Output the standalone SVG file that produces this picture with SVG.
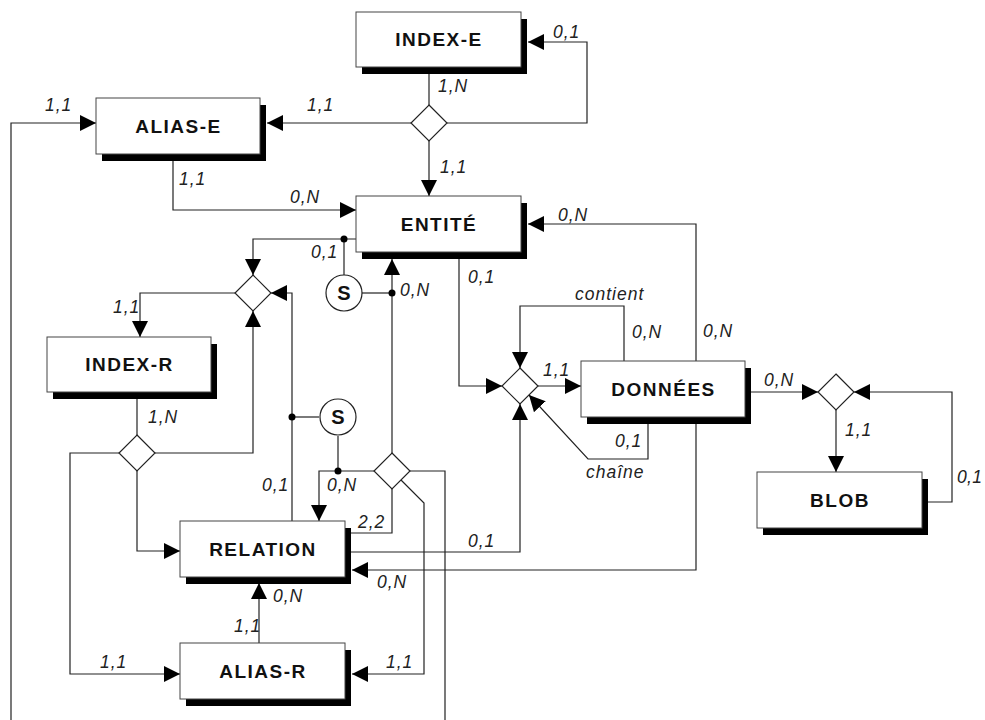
<svg xmlns="http://www.w3.org/2000/svg" width="985" height="720" viewBox="0 0 985 720">
<style>
.ln{fill:none;stroke:#222;stroke-width:1.2}
.ar{marker-end:url(#arr)}
.box{fill:#fff;stroke:#444;stroke-width:1}
.sh{fill:#000}
.dia{fill:#fff;stroke:#222;stroke-width:1.2}
.circ{fill:#fff;stroke:#222;stroke-width:1.2}
.dot{fill:#000}
.lbl{font-family:"Liberation Sans",Arial,sans-serif;font-size:17.5px;font-style:italic;letter-spacing:1px;fill:#222}
.name{font-family:"Liberation Sans",Arial,sans-serif;font-size:19px;font-weight:bold;letter-spacing:1.5px;text-anchor:middle;fill:#111}
.s{font-family:"Liberation Sans",Arial,sans-serif;font-size:20px;font-weight:bold;text-anchor:middle;fill:#111}
</style>
<defs>
<marker id="arr" markerUnits="userSpaceOnUse" viewBox="0 0 16 16" refX="16" refY="8" markerWidth="16" markerHeight="16" orient="auto">
<path d="M0,0 L16,8 L0,16 z" fill="#000"/>
</marker>
</defs>
<rect width="985" height="720" fill="#fff"/>
<g id="connectors">
<path class="ln ar" d="M411,123 H267"/>
<path class="ln" d="M429,105 V67"/>
<path class="ln ar" d="M447,123 H587 V42 H528"/>
<path class="ln ar" d="M429,141 V196"/>
<path class="ln ar" d="M11,720 V123 H96"/>
<path class="ln ar" d="M173,154 V210 H356"/>
<path class="ln ar" d="M696,361 V224 H528"/>
<path class="ln ar" d="M356,239 H253 V275"/>
<path class="ln" d="M344,239 V275"/>
<path class="ln" d="M362,293 H392"/>
<path class="ln ar" d="M392,453 V259"/>
<path class="ln ar" d="M459,252 V386 H502"/>
<path class="ln ar" d="M538,386 H581"/>
<path class="ln ar" d="M624,361 V306 H520 V368"/>
<path class="ln ar" d="M648,417 V459 H588 L529,395"/>
<path class="ln ar" d="M745,392 H818"/>
<path class="ln ar" d="M836,410 V472"/>
<path class="ln ar" d="M922,502 H952 V392 H854"/>
<path class="ln ar" d="M696,417 V570 H352"/>
<path class="ln ar" d="M345,552 H520 V404"/>
<path class="ln ar" d="M235,293 H140 V337"/>
<path class="ln ar" d="M292,521 V293 H271"/>
<path class="ln" d="M292,417 H319"/>
<path class="ln" d="M338,436 V471"/>
<path class="ln ar" d="M375,471 H319 V521"/>
<path class="ln" d="M392,489 V533 H345"/>
<path class="ln" d="M410,471 H445 V720"/>
<path class="ln ar" d="M401,480 L424,503 V674 H352"/>
<path class="ln" d="M137,435 V392"/>
<path class="ln ar" d="M155,453 H253 V311"/>
<path class="ln ar" d="M119,453 H70 V674 H180"/>
<path class="ln ar" d="M137,471 V551 H180"/>
<path class="ln ar" d="M259,643 V583"/>
<circle class="dot" cx="344" cy="239" r="3.5"/>
<circle class="dot" cx="392" cy="293" r="3.5"/>
<circle class="dot" cx="292" cy="417" r="3.5"/>
<circle class="dot" cx="338" cy="471" r="3.5"/>
</g>
<g id="labels">
<text class="lbl" x="553" y="38">0,1</text>
<text class="lbl" x="438" y="92">1,N</text>
<text class="lbl" x="307" y="111">1,1</text>
<text class="lbl" x="440" y="173">1,1</text>
<text class="lbl" x="45" y="111">1,1</text>
<text class="lbl" x="179" y="185">1,1</text>
<text class="lbl" x="290" y="203">0,N</text>
<text class="lbl" x="558" y="221">0,N</text>
<text class="lbl" x="311" y="258">0,1</text>
<text class="lbl" x="400" y="296">0,N</text>
<text class="lbl" x="468" y="283">0,1</text>
<text class="lbl" x="575" y="300">contient</text>
<text class="lbl" x="632" y="338">0,N</text>
<text class="lbl" x="703" y="337">0,N</text>
<text class="lbl" x="543" y="376">1,1</text>
<text class="lbl" x="764" y="386">0,N</text>
<text class="lbl" x="845" y="436">1,1</text>
<text class="lbl" x="957" y="483" style="letter-spacing:0.3px">0,1</text>
<text class="lbl" x="615" y="447">0,1</text>
<text class="lbl" x="586" y="478">chaîne</text>
<text class="lbl" x="113" y="313">1,1</text>
<text class="lbl" x="148" y="423">1,N</text>
<text class="lbl" x="262" y="491">0,1</text>
<text class="lbl" x="327" y="491">0,N</text>
<text class="lbl" x="358" y="528">2,2</text>
<text class="lbl" x="468" y="547">0,1</text>
<text class="lbl" x="377" y="588">0,N</text>
<text class="lbl" x="273" y="602">0,N</text>
<text class="lbl" x="234" y="632">1,1</text>
<text class="lbl" x="100" y="668">1,1</text>
<text class="lbl" x="386" y="668">1,1</text>
</g>
<g id="index-e"><rect class="sh" x="362" y="19" width="165" height="55"/><rect class="box" x="356" y="12" width="165" height="55"/><text class="name" x="439" y="46">INDEX-E</text></g>
<g id="alias-e"><rect class="sh" x="102" y="105" width="164" height="56"/><rect class="box" x="96" y="98" width="164" height="56"/><text class="name" x="178.5" y="132.5">ALIAS-E</text></g>
<g id="entite"><rect class="sh" x="362" y="203" width="165" height="56"/><rect class="box" x="356" y="196" width="165" height="56"/><text class="name" x="439" y="230.5">ENTITÉ</text></g>
<g id="index-r"><rect class="sh" x="53" y="344" width="164" height="55"/><rect class="box" x="47" y="337" width="164" height="55"/><text class="name" x="129.5" y="371">INDEX-R</text></g>
<g id="donnees"><rect class="sh" x="587" y="368" width="164" height="56"/><rect class="box" x="581" y="361" width="164" height="56"/><text class="name" x="663.5" y="395.5">DONNÉES</text></g>
<g id="blob"><rect class="sh" x="763" y="479" width="165" height="56"/><rect class="box" x="757" y="472" width="165" height="56"/><text class="name" x="840" y="506.5">BLOB</text></g>
<g id="relation"><rect class="sh" x="186" y="528" width="165" height="56"/><rect class="box" x="180" y="521" width="165" height="56"/><text class="name" x="263" y="555.5">RELATION</text></g>
<g id="alias-r"><rect class="sh" x="186" y="650" width="165" height="56"/><rect class="box" x="180" y="643" width="165" height="56"/><text class="name" x="263" y="677.5">ALIAS-R</text></g>
<g id="assoc-index-e"><path class="dia" d="M429,105 L447,123 L429,141 L411,123 z"/></g>
<g id="assoc-index-r"><path class="dia" d="M253,275 L271,293 L253,311 L235,293 z"/></g>
<g id="assoc-alias-r"><path class="dia" d="M137,435 L155,453 L137,471 L119,453 z"/></g>
<g id="assoc-relation"><path class="dia" d="M392,453 L410,471 L392,489 L374,471 z"/></g>
<g id="assoc-donnees"><path class="dia" d="M520,368 L538,386 L520,404 L502,386 z"/></g>
<g id="assoc-blob"><path class="dia" d="M836,374 L854,392 L836,410 L818,392 z"/></g>
<g id="s1"><circle class="circ" cx="344" cy="293" r="18"/><text class="s" x="344" y="300">S</text></g>
<g id="s2"><circle class="circ" cx="338" cy="417" r="18"/><text class="s" x="338" y="424">S</text></g>
</svg>
